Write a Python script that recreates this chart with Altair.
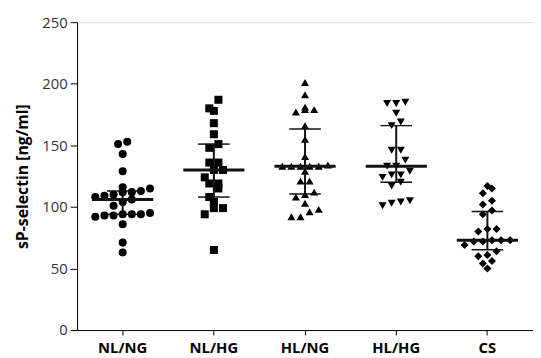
import altair as alt
import pandas as pd

groups = ["NL/NG", "NL/HG", "HL/NG", "HL/HG", "CS"]
shapes = ["circle", "square", "triangle-up", "triangle-down", "diamond"]

nl_ng = [153, 151, 143, 129, 116, 115, 113, 112, 112, 110, 109, 108, 106,
         104, 101, 95, 94, 94, 94, 93, 93, 92, 86, 71, 63]
nl_hg = [187, 180, 178, 168, 159, 151, 148, 136, 136, 130, 130, 124, 119,
         119, 115, 108, 104, 99, 99, 94, 65]
hl_ng = [201, 191, 181, 179, 179, 177, 166, 155, 141, 134, 133, 133, 133,
         133, 133, 129, 121, 121, 112, 110, 108, 103, 98, 96, 92, 92]
hl_hg = [185, 184, 184, 176, 169, 166, 146, 146, 138, 133, 133, 129, 126,
         126, 124, 120, 117, 105, 104, 103, 101]
cs = [117, 115, 111, 105, 102, 97, 94, 82, 82, 80, 73, 72, 73, 72, 73, 69,
      64, 61, 60, 56, 54, 50]

series = [nl_ng, nl_hg, hl_ng, hl_hg, cs]
rows = []
for g, vals in zip(groups, series):
    for v in vals:
        rows.append({"group": g, "value": v})
df = pd.DataFrame(rows)

W, H = 462, 312

xenc = alt.X(
    "group:N",
    sort=groups,
    scale=alt.Scale(domain=groups, paddingInner=0, paddingOuter=0),
    axis=alt.Axis(title=None, labelAngle=0, labelFontWeight="bold",
                  labelFontSize=15, labelColor="#000", tickSize=5,
                  labelPadding=6, domainColor="#000", tickColor="#000"),
)
yscale = alt.Scale(domain=[0, 250])
yaxis = alt.Axis(title="sP-selectin [ng/ml]", values=[0, 50, 100, 150, 200, 250],
                 labelFontSize=15, labelColor="#333", tickSize=7,
                 labelPadding=3, titleFontSize=16, titleFontWeight="bold",
                 titleColor="#000", titlePadding=11, domainColor="#000",
                 tickColor="#000", grid=False)

base = alt.Chart(df)

points = base.transform_calculate(
    row="round(datum.value / 8)"
).transform_window(
    rank="row_number()", groupby=["group", "row"], sort=[alt.SortField("value")]
).transform_joinaggregate(
    n="count()", groupby=["group", "row"]
).transform_calculate(
    off="datum.rank - (datum.n + 1) / 2"
).mark_point(filled=True, opacity=1, color="#000", size=66).encode(
    x=xenc,
    xOffset=alt.XOffset("off:Q", scale=alt.Scale(domain=[-5, 5], range=[0, W / 5])),
    y=alt.Y("value:Q", scale=yscale, axis=yaxis),
    shape=alt.Shape("group:N", scale=alt.Scale(domain=groups, range=shapes), legend=None),
)

stats = base.transform_aggregate(
    med="median(value)", q1="q1(value)", q3="q3(value)", groupby=["group"]
)

vline = stats.mark_rule(color="#111", strokeWidth=2, opacity=1).encode(
    x=alt.X("group:N", sort=groups), y=alt.Y("q1:Q", scale=yscale), y2="q3:Q"
)
med = stats.mark_tick(color="#111", thickness=3, size=62, orient="horizontal",
                      opacity=1).encode(
    x=alt.X("group:N", sort=groups), y=alt.Y("med:Q", scale=yscale)
)
q1t = stats.mark_tick(color="#111", thickness=1.5, size=32, orient="horizontal",
                      opacity=1).encode(
    x=alt.X("group:N", sort=groups), y=alt.Y("q1:Q", scale=yscale)
)
q3t = stats.mark_tick(color="#111", thickness=1.5, size=32, orient="horizontal",
                      opacity=1).encode(
    x=alt.X("group:N", sort=groups), y=alt.Y("q3:Q", scale=yscale)
)

chart = alt.layer(points, vline, med, q1t, q3t).properties(
    width=W, height=H,
    autosize=alt.AutoSizeParams(type="none"),
    padding={"left": 70, "top": 12, "right": 0, "bottom": 30},
).configure_view(stroke=None).configure(font="Open Sans")

chart.save("out.html", embed_options={"renderer": "svg", "actions": False})
